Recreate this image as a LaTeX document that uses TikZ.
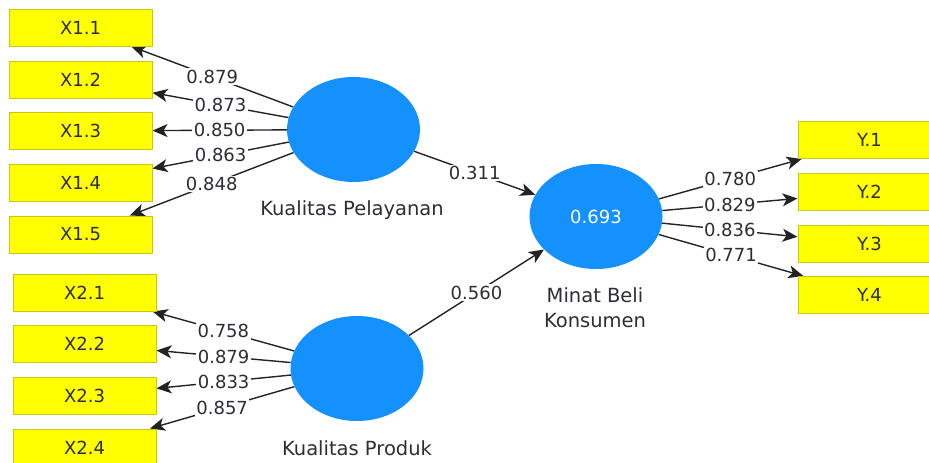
\documentclass[tikz,border=0pt]{standalone}
\usepackage{fontspec}
\setmainfont{DejaVu Sans}
\usetikzlibrary{shapes.geometric,arrows.meta}
\definecolor{lvblue}{RGB}{20,145,252}
\definecolor{boxyellow}{RGB}{255,255,0}
\definecolor{boxedge}{RGB}{200,200,20}
\definecolor{txt}{RGB}{45,45,55}
\definecolor{linec}{RGB}{35,35,35}
\pgfdeclarelayer{bg}
\pgfsetlayers{bg,main}
\begin{document}
\begin{tikzpicture}[x=1pt,y=-1pt,
  ind/.style={rectangle,draw=boxedge,line width=1pt,fill=boxyellow,minimum width=143pt,minimum height=37pt,inner sep=0pt,font=\fontsize{18}{20}\selectfont,text=txt},
  lv/.style={ellipse,fill=lvblue,minimum width=133pt,minimum height=105pt,inner sep=0pt},
  conn/.style={draw=linec,line width=1.4pt,-{Stealth[length=15pt,width=13pt,inset=4pt]}},
  lbl/.style={fill=white,inner sep=1.5pt,font=\fontsize{18}{20}\selectfont,text=txt},
  captxt/.style={font=\fontsize{19.5}{25}\selectfont,text=txt,align=center}]
\useasboundingbox (0,0) rectangle (929,463);
\clip (0,0) rectangle (929,463);
% latent variables
\node[lv] (KP) at (353.5,129.5) {};
\node[lv] (MB) at (596,216.5) {\fontsize{18}{20}\selectfont\color{white}0.693};
\node[lv] (KPr) at (357,368.5) {};
% indicators
\node[ind] (X11) at (80.5,27.5) {X1.1};
\node[ind] (X12) at (80.5,79.5) {X1.2};
\node[ind] (X13) at (80.5,131) {X1.3};
\node[ind] (X14) at (80.5,182.5) {X1.4};
\node[ind] (X15) at (80.5,234.5) {X1.5};
\node[ind] (X21) at (84.5,292.5) {X2.1};
\node[ind] (X22) at (84.5,344) {X2.2};
\node[ind] (X23) at (84.5,395.5) {X2.3};
\node[ind] (X24) at (84.5,447.5) {X2.4};
\node[ind] (Y1) at (869.5,140) {Y.1};
\node[ind] (Y2) at (869.5,192) {Y.2};
\node[ind] (Y3) at (869.5,244) {Y.3};
\node[ind] (Y4) at (869.5,295) {Y.4};
% captions
\node[captxt] (capKP) at (352,210) {Kualitas Pelayanan};
\node[captxt] (capKPr) at (357,448) {Kualitas Produk};
\node[captxt] (capMB) at (595,307.5) {Minat Beli\\Konsumen};
% connectors
\begin{pgfonlayer}{bg}
\draw[conn] (KP) -- (X11) coordinate[midway] (m11);
\draw[conn] (KP) -- (X12) coordinate[midway] (m12);
\draw[conn] (KP) -- (X13) coordinate[midway] (m13);
\draw[conn] (KP) -- (X14) coordinate[midway] (m14);
\draw[conn] (KP) -- (X15) coordinate[midway] (m15);
\draw[conn] (KPr) -- (X21) coordinate[midway] (m21);
\draw[conn] (KPr) -- (X22) coordinate[midway] (m22);
\draw[conn] (KPr) -- (X23) coordinate[midway] (m23);
\draw[conn] (KPr) -- (X24) coordinate[midway] (m24);
\draw[conn] (MB) -- (Y1) coordinate[midway] (my1);
\draw[conn] (MB) -- (Y2) coordinate[midway] (my2);
\draw[conn] (MB) -- (Y3) coordinate[midway] (my3);
\draw[conn] (MB) -- (Y4) coordinate[midway] (my4);
\draw[conn] (KP) -- (MB) coordinate[midway] (mp1);
\draw[conn] (KPr) -- (MB) coordinate[midway] (mp2);
\end{pgfonlayer}
% labels
\node[lbl] at (m11) {0.879};
\node[lbl] at (m12) {0.873};
\node[lbl] at (m13) {0.850};
\node[lbl] at (m14) {0.863};
\node[lbl] at (m15) {0.848};
\node[lbl] at (m21) {0.758};
\node[lbl] at (m22) {0.879};
\node[lbl] at (m23) {0.833};
\node[lbl] at (m24) {0.857};
\node[lbl] at (my1) {0.780};
\node[lbl] at (my2) {0.829};
\node[lbl] at (my3) {0.836};
\node[lbl] at (my4) {0.771};
\node[lbl] at (mp1) {0.311};
\node[lbl] at (mp2) {0.560};
\end{tikzpicture}
\end{document}
